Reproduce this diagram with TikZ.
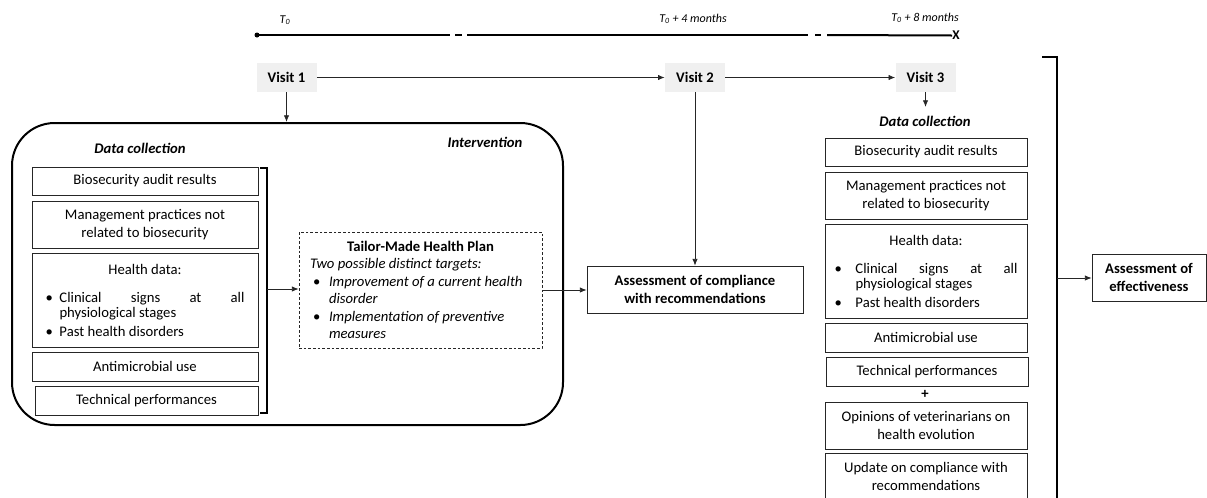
\documentclass[tikz,border=0pt]{standalone}
\usepackage{fontspec}
\setmainfont{Carlito}
\usetikzlibrary{arrows.meta}
\tikzset{
  box/.style 2 args={draw=black!85, line width=0.6pt, minimum width=#1*0.75pt, minimum height=#2*0.75pt, inner sep=0pt, align=center, font=\fontsize{11}{14}\selectfont},
  boldbox/.style 2 args={box={#1}{#2}, font=\fontsize{11}{13.8}\selectfont\bfseries},
  visitbox/.style={fill=black!6, minimum width=60*0.75pt, minimum height=29*0.75pt, inner sep=0pt, font=\fontsize{11}{13}\selectfont\bfseries},
  arr/.style={-{Latex[length=5pt,width=4pt]}, line width=0.6pt, draw=black!85},
  tl/.style={line width=1.5pt},
  tlab/.style={font=\fontsize{9}{11}\selectfont\itshape, inner sep=0pt},
  heading/.style={font=\fontsize{11}{13}\selectfont\bfseries\itshape, inner sep=0pt},
  brk/.style={line width=1.3pt},
  dotnode/.style={circle, fill=black, inner sep=0pt, minimum size=5*0.75pt},
  bigbox/.style={draw=black, line width=1.5pt, rounded corners=32pt, minimum width=551*0.75pt, minimum height=302*0.75pt, inner sep=0pt},
  dashbox/.style={draw=black!85, dash pattern=on 2pt off 1.5pt, line width=0.6pt, minimum width=243*0.75pt, minimum height=116*0.75pt, inner sep=0pt},
}
\newcommand\healthcontent[3]{%
  \parbox{#1}{\fontsize{11}{11.25}\selectfont
  \centering Health data:\par\vspace{9.75pt}
  \raggedright
  \makebox[#2][l]{\textbullet}\makebox[#3][s]{Clinical signs at all}\par
  \hspace*{#2}physiological stages\par\vspace{3pt}
  \makebox[#2][l]{\textbullet}Past health disorders}}
\begin{document}
\begin{tikzpicture}[x=0.75pt,y=-0.75pt]
\useasboundingbox (0,0) rectangle (1207,497);

% ---------------- timeline
\node[tlab] (lt0) at (285,20) {T\textsubscript{0}};
\node[tlab] (lt4) at (693,19) {T\textsubscript{0} + 4 months};
\node[tlab] (lt8) at (925,18) {T\textsubscript{0} + 8 months};
\node[dotnode] (t0) at (257,35) {};
\coordinate (g1a) at (450,35); \coordinate (g1b) at (455,35);
\coordinate (g1c) at (462,35); \coordinate (g1d) at (467,35);
\coordinate (g2a) at (808,35); \coordinate (g2b) at (815,35);
\coordinate (g2c) at (821,35); \coordinate (g2d) at (827,35);
\node[font=\fontsize{10}{12}\selectfont\bfseries, inner sep=0pt] (tx) at (956,35.5) {X};
\draw[tl] (t0.center) -- (g1a);
\draw[tl] (g1b) -- (g1c);
\draw[tl] (g1d) -- (g2a);
\draw[tl] (g2b) -- (g2c);
\draw[tl] (g2d) -- (tx.west);

% ---------------- visits
\node[visitbox] (v1) at (286.5,77.5) {Visit 1};
\node[visitbox] (v2) at (695,77.5) {Visit 2};
\node[visitbox] (v3) at (925.5,77.5) {Visit 3};
\draw[arr] (v1) -- (v2);
\draw[arr] (v2) -- (v3);

% ---------------- intervention box
\node[bigbox] (intv) at (287.5,274) {};
\draw[arr] (v1.south) -- (v1.south |- intv.north);
\node[heading] (lint) at (485,142) {Intervention};
\node[heading] (ldc) at (140,148) {Data collection};

% left column
\node[box={226}{28}] (lb1) at (145,181) {Biosecurity audit results};
\node[box={226}{47}] (lb2) at (145,224.5) {Management practices not\\related to biosecurity};
\node[box={226}{94}] (lb3) at (145,300) {\healthcontent{149.25pt}{10.5pt}{138.75pt}};
\node[box={226}{29}] (lb4) at (145,366.5) {Antimicrobial use};
\node[box={223}{29}] (lb5) at (146.5,400.5) {Technical performances};
\draw[brk] (260,168) -- (267,168) -- (267,413) -- (260,413);
\coordinate (lbr) at (267,289);

% tailor-made plan
\node[dashbox] (tmhp) at (420.5,290) {\parbox{165.75pt}{\fontsize{11}{13.1}\selectfont
  \centering\textbf{Tailor-Made Health Plan}\par
  \raggedright\itshape Two possible distinct targets:\par
  \makebox[14.25pt][l]{\hspace{2.25pt}\upshape\textbullet}Improvement of a current health\par
  \hspace*{14.25pt}disorder\par
  \makebox[14.25pt][l]{\hspace{2.25pt}\upshape\textbullet}Implementation of preventive\par
  \hspace*{14.25pt}measures}};
\draw[arr] (lbr) -- (lbr -| tmhp.west);

% compliance
\node[boldbox={216}{47}] (comp) at (695,289.5) {Assessment of compliance\\with recommendations};
\draw[arr] (tmhp.east) -- (tmhp.east -| comp.west);
\draw[arr] (v2.south) -- (comp.north);

% ---------------- right column
\coordinate (v3end) at (925.5,107);
\draw[arr] (v3.south) -- (v3end);
\node[heading] (rdc) at (925,121) {Data collection};
\node[box={202}{28}] (rb1) at (926,152) {Biosecurity audit results};
\node[box={202}{47}] (rb2) at (926,195.5) {Management practices not\\related to biosecurity};
\node[box={202}{94}] (rb3) at (926,271) {\healthcontent{137.25pt}{15.75pt}{121.5pt}};
\node[box={202}{29}] (rb4) at (926,337.5) {Antimicrobial use};
\node[box={202}{29}] (rb5) at (927,371.5) {Technical performances};
\node[font=\fontsize{11}{13}\selectfont\bfseries, inner sep=0pt] (plus) at (925,394) {+};
\node[box={202}{47}] (rb6) at (926,425.5) {Opinions of veterinarians on\\health evolution};
\node[box={202}{47}] (rb7) at (926,476.5) {Update on compliance with\\recommendations};
\draw[brk] (1042,57) -- (1057,57) -- (1057,505);
\coordinate (rbr) at (1057,278);

% effectiveness
\node[boldbox={114}{47}] (eff) at (1149,277.5) {Assessment of\\effectiveness};
\draw[arr] (rbr) -- (rbr -| eff.west);
\end{tikzpicture}
\end{document}
